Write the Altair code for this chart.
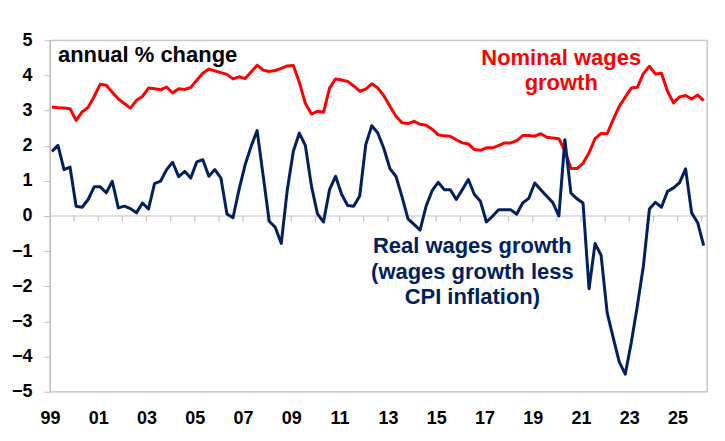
import altair as alt
import pandas as pd

# Quarterly series, first observation early 1999, last early 2026
nominal = [3.10, 3.08, 3.07, 3.05, 2.72, 2.96, 3.09, 3.40, 3.75, 3.72,
           3.52, 3.33, 3.20, 3.07, 3.29, 3.40, 3.64, 3.62, 3.59, 3.67,
           3.50, 3.62, 3.60, 3.66, 3.86, 4.06, 4.18, 4.13, 4.08, 4.03,
           3.90, 3.96, 3.91, 4.10, 4.29, 4.15, 4.11, 4.14, 4.20, 4.27,
           4.28, 3.80, 3.20, 2.90, 2.98, 2.95, 3.64, 3.90, 3.87, 3.83,
           3.70, 3.55, 3.61, 3.76, 3.64, 3.42, 3.12, 2.84, 2.65, 2.63,
           2.69, 2.61, 2.58, 2.47, 2.31, 2.28, 2.27, 2.17, 2.08, 2.05,
           1.89, 1.87, 1.94, 1.94, 2.00, 2.08, 2.08, 2.14, 2.29, 2.29,
           2.27, 2.34, 2.24, 2.22, 2.20, 1.85, 1.35, 1.35, 1.50, 1.80,
           2.20, 2.35, 2.34, 2.74, 3.12, 3.38, 3.64, 3.66, 4.05, 4.26,
           4.04, 4.06, 3.55, 3.22, 3.39, 3.43, 3.33, 3.44, 3.28]

real = [1.84, 2.01, 1.32, 1.39, 0.28, 0.25, 0.47, 0.83, 0.83, 0.66,
        0.99, 0.23, 0.28, 0.21, 0.09, 0.37, 0.20, 0.92, 0.99, 1.32,
        1.53, 1.12, 1.27, 1.08, 1.54, 1.60, 1.13, 1.32, 1.08, 0.06,
        -0.05, 0.75, 1.45, 1.98, 2.43, 1.15, -0.15, -0.32, -0.78, 0.75,
        1.84, 2.36, 2.00, 0.85, 0.06, -0.17, 0.75, 1.13, 0.62, 0.30,
        0.28, 0.57, 2.03, 2.57, 2.36, 1.92, 1.35, 1.13, 0.55, -0.08,
        -0.24, -0.40, 0.28, 0.72, 0.96, 0.75, 0.75, 0.47, 0.75, 1.04,
        0.61, 0.42, -0.17, -0.01, 0.18, 0.18, 0.18, 0.05, 0.37, 0.50,
        0.94, 0.75, 0.56, 0.38, 0.00, 2.17, 0.65, 0.49, 0.37, -2.07,
        -0.78, -1.12, -2.75, -3.46, -4.15, -4.50, -3.60, -2.56, -1.43, 0.20,
        0.39, 0.25, 0.70, 0.80, 0.95, 1.34, 0.09, -0.19, -0.84]

first_period = 1999.083
period_step = 0.25
label_years = list(range(1999, 2026, 2))
tick_years = list(range(2000, 2027))
y_ticks = list(range(-5, 6))

n = len(nominal)
t = [first_period + period_step * i for i in range(n)]
df = pd.DataFrame({
    "t": t + t,
    "v": nominal + real,
    "s": ["Nominal"] * n + ["Real"] * n,
})

FONT = "Liberation Sans"
GREY = "#BFBFBF"
W, H = 658, 352
xscale = alt.Scale(domain=[1999, 2026.22], nice=False, zero=False)
yscale = alt.Scale(domain=[-5, 5], nice=False, zero=False)

x_axis = alt.Axis(values=label_years,
                  labelExpr="slice(toString(datum.value), 2)",
                  title=None, domain=False, ticks=False, grid=False,
                  labelFont=FONT, labelFontSize=18, labelFontWeight="bold",
                  labelColor="black", labelPadding=18, labelFlush=False)
y_axis = alt.Axis(values=y_ticks, title=None, grid=False,
                  domainColor=GREY, tickColor=GREY, tickSize=6,
                  labelPadding=12, labelFont=FONT, labelFontSize=18,
                  labelFontWeight="bold", labelColor="black")

frame = alt.Chart(pd.DataFrame({"a": [0]})).mark_rect(
    fill=None, stroke=GREY, strokeWidth=1).encode(
    x=alt.value(0), x2=alt.value(W), y=alt.value(0), y2=alt.value(H))

lines = alt.Chart(df).mark_line(strokeWidth=3, strokeJoin="round").encode(
    x=alt.X("t:Q", scale=xscale, axis=x_axis, title=None),
    y=alt.Y("v:Q", scale=yscale, axis=y_axis, title=None),
    color=alt.Color("s:N", scale=alt.Scale(domain=["Nominal", "Real"],
                                           range=["#FF0000", "#002060"]),
                    legend=None),
)

zero = alt.Chart(pd.DataFrame({"y": [0]})).mark_rule(color=GREY, strokeWidth=1).encode(
    y=alt.Y("y:Q", scale=yscale, axis=y_axis, title=None)
)

ticks = alt.Chart(pd.DataFrame({"yr": tick_years, "y0": [0] * len(tick_years),
                                "y1": [-0.17] * len(tick_years)})).mark_rule(
    color=GREY, strokeWidth=1).encode(
    x=alt.X("yr:Q", scale=xscale, axis=x_axis, title=None),
    y=alt.Y("y0:Q", scale=yscale, axis=y_axis, title=None),
    y2="y1:Q",
)

txt_annual = alt.Chart(pd.DataFrame({"a": [0]})).mark_text(
    text="annual % change", font=FONT, fontSize=22, fontWeight="bold",
    color="black", align="left", baseline="middle").encode(
    x=alt.value(8), y=alt.value(15))

txt_nom = alt.Chart(pd.DataFrame({"a": [0]})).mark_text(
    text=["Nominal wages", "growth"], font=FONT, fontSize=22, fontWeight="bold",
    color="#FF0000", align="center", baseline="middle", lineHeight=25).encode(
    x=alt.value(512), y=alt.value(17.5))

txt_real = alt.Chart(pd.DataFrame({"a": [0]})).mark_text(
    text=["Real wages growth", "(wages growth less", "CPI inflation)"],
    font=FONT, fontSize=22, fontWeight="bold",
    color="#002060", align="center", baseline="middle", lineHeight=25.5).encode(
    x=alt.value(423), y=alt.value(206.5))

chart = alt.layer(frame, zero, ticks, lines, txt_annual, txt_nom, txt_real).properties(
    width=W, height=H,
    padding={"left": 42, "top": 32, "right": 10, "bottom": 40},
    autosize="none",
).configure_view(stroke=GREY, strokeWidth=1).configure(background="white")

chart.save("out.html", embed_options={"renderer": "svg", "actions": False})
